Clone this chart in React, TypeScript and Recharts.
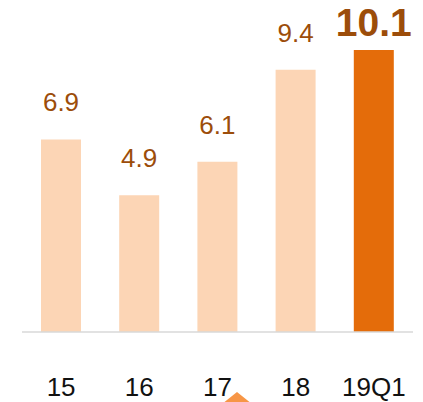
import { BarChart, Bar, XAxis, YAxis, Cell, LabelList } from "recharts";

const categories = ["15", "16", "17", "18", "19Q1"];
const values = [6.9, 4.9, 6.1, 9.4, 10.1];
const highlightIndex = 4;

const data = categories.map((name, i) => ({ name, value: values[i] }));

const FONT = "'Liberation Sans', Arial, sans-serif";

function ValueLabel(props: any) {
  const { x, y, width, value, index } = props;
  const big = index === highlightIndex;
  return (
    <text
      x={x + width / 2}
      y={big ? y - 14 : y - 28}
      textAnchor="middle"
      fill="#9c4d0a"
      fontFamily={FONT}
      fontSize={big ? 39 : 26}
      fontWeight={big ? 700 : 400}
    >
      {value}
    </text>
  );
}

function CategoryTick(props: any) {
  const { x, y, payload } = props;
  return (
    <text
      x={x}
      y={y + 56}
      textAnchor="middle"
      fill="#111"
      fontFamily={FONT}
      fontSize={26}
    >
      {payload.value}
    </text>
  );
}

export default function App() {
  return (
    <div
      style={{
        position: "absolute",
        left: 0,
        top: 0,
        width: 423,
        height: 402,
        background: "#fff",
        overflow: "hidden",
      }}
    >
      <BarChart
        width={423}
        height={402}
        data={data}
        margin={{ top: 25, right: 10, left: 22, bottom: 0 }}
        barSize={40}
      >
        <XAxis
          dataKey="name"
          height={70}
          tickLine={false}
          axisLine={{ stroke: "#d9d9d9", strokeWidth: 1.5 }}
          tick={<CategoryTick />}
          interval={0}
        />
        <YAxis hide domain={[0, 11]} />
        <Bar dataKey="value" isAnimationActive={false}>
          {data.map((d, i) => (
            <Cell key={d.name} fill={i === highlightIndex ? "#e46c0a" : "#fcd5b5"} />
          ))}
          <LabelList dataKey="value" content={<ValueLabel />} />
        </Bar>
      </BarChart>
      <div
        style={{
          position: "absolute",
          left: 222,
          top: 392,
          width: 0,
          height: 0,
          borderLeft: "15px solid transparent",
          borderRight: "15px solid transparent",
          borderBottom: "12px solid #f79646",
        }}
      />
    </div>
  );
}
